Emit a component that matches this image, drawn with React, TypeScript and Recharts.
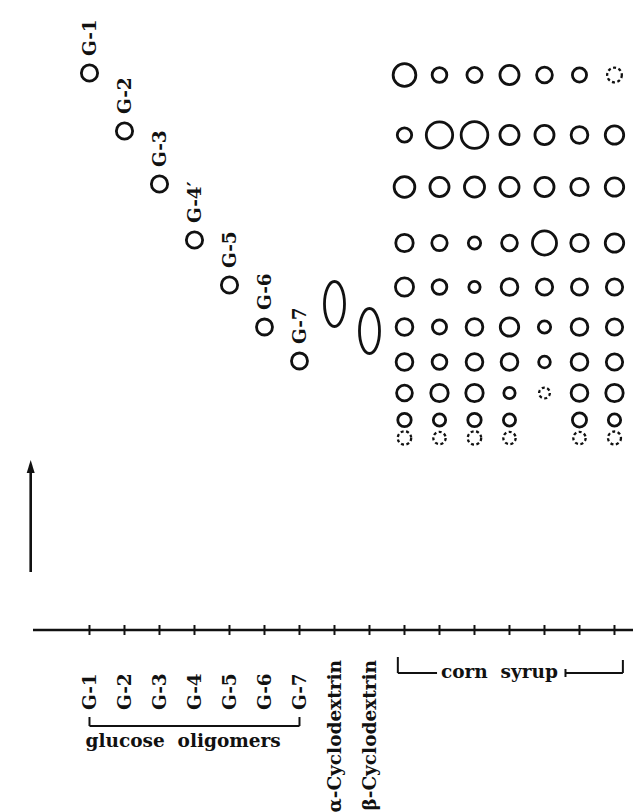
import { ScatterChart, Scatter, XAxis, YAxis, ZAxis, ReferenceLine, ReferenceDot } from 'recharts';

// lanes along the origin line (index = lane number)
const LANE_LABELS = [
  'G-1', 'G-2', 'G-3', 'G-4', 'G-5', 'G-6', 'G-7',
  'α-Cyclodextrin', 'β-Cyclodextrin',
  '', '', '', '', '', '', '',
];
const LANES = LANE_LABELS.map((_, i) => i);

// standards: glucose oligomers (migration distance, spot area)
const OLIGOMER_NAMES = ['G-1', 'G-2', 'G-3', 'G-4′', 'G-5', 'G-6', 'G-7'];
const OLIGOMER_DIST = [55.7, 49.9, 44.6, 39.0, 34.5, 30.3, 26.9];
const OLIGOMER_AREA = [66, 66, 66, 66, 66, 64, 64];

// cyclodextrins (elongated spots)
const CD_LANES = [7, 8];
const CD_DIST = [32.6, 29.9];
const CD_AREA = [225, 225];

// corn syrup samples: 7 lanes, 10 spot rows
const SYRUP_LANES = [9, 10, 11, 12, 13, 14, 15];
const SYRUP_DIST = [55.5, 49.5, 44.3, 38.7, 34.3, 30.3, 26.8, 23.7, 21.0, 19.2];
const SYRUP_AREA: (number | null)[][] = [
  [129, 54, 57, 91, 62, 50, 54],
  [52, 174, 178, 91, 91, 70, 85],
  [107, 91, 101, 91, 91, 76, 85],
  [76, 59, 38, 62, 145, 76, 85],
  [82, 54, 32, 70, 67, 65, 67],
  [70, 50, 70, 85, 38, 70, 67],
  [70, 54, 70, 70, 34, 70, 67],
  [62, 76, 76, 32, 29, 70, 76],
  [45, 38, 45, 37, null, 50, 38],
  [45, 38, 45, 38, null, 38, 42],
];
// faint (dotted) spots as [row, column]
const SYRUP_TRACE = [[0, 6], [7, 4], [9, 0], [9, 1], [9, 2], [9, 3], [9, 5], [9, 6]];

const INK = '#111';
const FONT = { fontFamily: '"DejaVu Serif", serif', fontWeight: 700, fontSize: 18.5 };

const oligomerData = OLIGOMER_DIST.map((d, i) => ({
  lane: i, dist: d, area: OLIGOMER_AREA[i], name: OLIGOMER_NAMES[i],
}));
const cdData = CD_DIST.map((d, i) => ({ lane: CD_LANES[i], dist: d, area: CD_AREA[i] }));
const syrupData = SYRUP_AREA.flatMap((row, r) =>
  row.flatMap((a, c) =>
    a == null
      ? []
      : [{
          lane: SYRUP_LANES[c],
          dist: SYRUP_DIST[r],
          area: a,
          trace: SYRUP_TRACE.some(([tr, tc]) => tr === r && tc === c),
        }],
  ),
);

function OligomerSpot(props: any) {
  const { cx, cy, width, payload } = props;
  return (
    <g>
      <circle cx={cx} cy={cy} r={width / 2} fill="none" stroke={INK} strokeWidth={2.8} />
      <text
        transform={`translate(${cx},${cy - 17}) rotate(-90)`}
        dominantBaseline="central"
        fill={INK}
        {...FONT}
      >
        {payload.name}
      </text>
    </g>
  );
}

function EllipseSpot(props: any) {
  const { cx, cy, width } = props;
  const r = width / 2;
  return <ellipse cx={cx} cy={cy} rx={r / 1.5} ry={r * 1.5} fill="none" stroke={INK} strokeWidth={2.8} />;
}

function SyrupSpot(props: any) {
  const { cx, cy, width, payload } = props;
  return (
    <circle
      cx={cx}
      cy={cy}
      r={width / 2}
      fill="none"
      stroke={INK}
      strokeWidth={payload.trace ? 2.3 : 2.8}
      strokeDasharray={payload.trace ? '3 2.5' : undefined}
    />
  );
}

function LaneTick({ x, y, payload }: any) {
  const label = LANE_LABELS[payload.value];
  const cd = payload.value === 7 || payload.value === 8;
  return (
    <g>
      <line x1={x} y1={y - 5} x2={x} y2={y + 5} stroke={INK} strokeWidth={2} />
      {label && (
        <text
          transform={`translate(${x},${y + (cd ? 30 : 80)}) rotate(-90)`}
          textAnchor={cd ? 'end' : 'start'}
          dominantBaseline="central"
          fill={INK}
          {...FONT}
        >
          {label}
        </text>
      )}
    </g>
  );
}

const textShape = (label: string, dx = 0) => (p: any) => (
  <text x={p.cx + dx} y={p.cy} fill={INK} style={{ whiteSpace: 'pre' }} {...FONT}>
    {label}
  </text>
);

const line = { stroke: INK, strokeWidth: 2, ifOverflow: 'visible' as const };

export default function App() {
  return (
    <div style={{ background: '#fff', width: 633, height: 812 }}>
      <style>{'body{margin:0}'}</style>
      <ScatterChart width={633} height={812} margin={{ top: 0, right: 0, bottom: 0, left: 33 }}>
        <XAxis
          type="number"
          dataKey="lane"
          domain={[-1.614, 15.529]}
          allowDataOverflow
          ticks={LANES}
          interval={0}
          tick={<LaneTick />}
          tickLine={false}
          tickSize={0}
          tickMargin={0}
          height={182}
          axisLine={{ stroke: INK, strokeWidth: 2.5 }}
        />
        <YAxis type="number" dataKey="dist" domain={[0, 63]} allowDataOverflow hide />
        <ZAxis type="number" dataKey="area" domain={[0, 250]} range={[0, 250 * Math.PI]} />

        <Scatter data={oligomerData} shape={<OligomerSpot />} isAnimationActive={false} />
        <Scatter data={cdData} shape={<EllipseSpot />} isAnimationActive={false} />
        <Scatter data={syrupData} shape={<SyrupSpot />} isAnimationActive={false} />

        {/* direction of development */}
        <ReferenceLine segment={[{ x: -1.68, y: 5.8 }, { x: -1.68, y: 16.0 }]} stroke={INK} strokeWidth={2.6} ifOverflow="visible" />
        <ReferenceDot
          x={-1.68}
          y={17.0}
          r={1}
          ifOverflow="visible"
          shape={(p: any) => (
            <path d={`M${p.cx},${p.cy} L${p.cx - 4},${p.cy + 13} L${p.cx + 4},${p.cy + 13} Z`} fill={INK} />
          )}
        />

        {/* glucose oligomers bracket */}
        <ReferenceLine segment={[{ x: 0, y: -9.6 }, { x: 6, y: -9.6 }]} {...line} />
        <ReferenceLine segment={[{ x: 0, y: -8.7 }, { x: 0, y: -9.6 }]} {...line} />
        <ReferenceLine segment={[{ x: 6, y: -8.7 }, { x: 6, y: -9.6 }]} {...line} />
        <ReferenceDot x={0} y={-11.7} r={1} ifOverflow="visible" shape={textShape('glucose  oligomers', -4)} />

        {/* corn syrup bracket */}
        <ReferenceLine segment={[{ x: 8.81, y: -4.3 }, { x: 9.93, y: -4.3 }]} {...line} />
        <ReferenceLine segment={[{ x: 13.6, y: -4.3 }, { x: 15.24, y: -4.3 }]} {...line} />
        <ReferenceLine segment={[{ x: 8.81, y: -2.7 }, { x: 8.81, y: -4.3 }]} {...line} />
        <ReferenceLine segment={[{ x: 15.24, y: -3.0 }, { x: 15.24, y: -4.3 }]} {...line} />
        <ReferenceLine segment={[{ x: 13.6, y: -3.9 }, { x: 13.6, y: -4.7 }]} {...line} />
        <ReferenceDot x={10.04} y={-4.8} r={1} ifOverflow="visible" shape={textShape('corn  syrup')} />
      </ScatterChart>
    </div>
  );
}
